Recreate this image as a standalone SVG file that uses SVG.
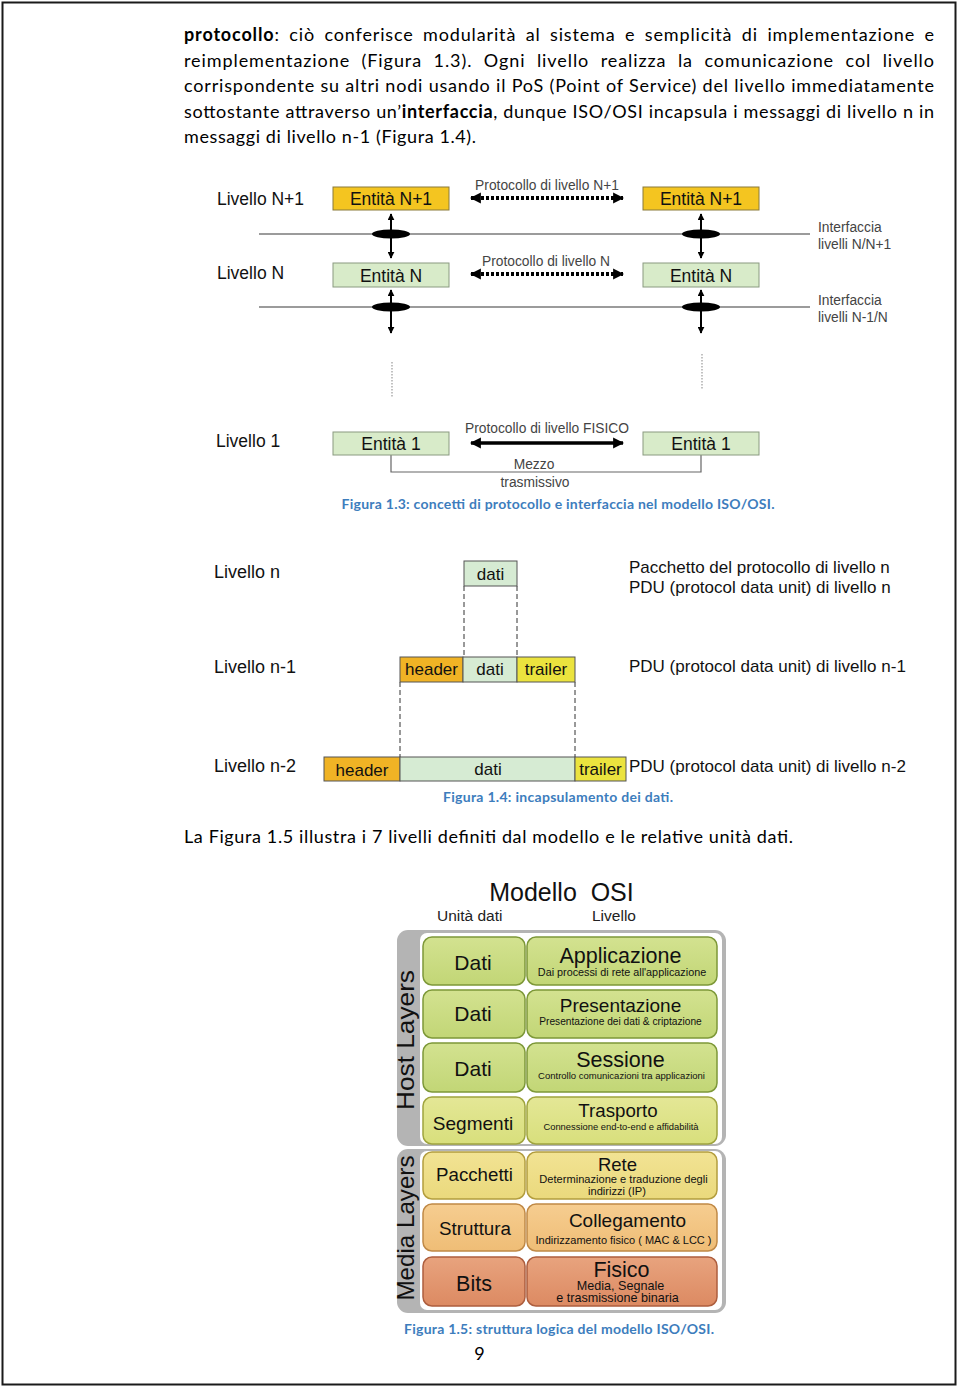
<svg xmlns="http://www.w3.org/2000/svg" width="960" height="1388" viewBox="0 0 960 1388">
<style>
.body{font-family:Lato,"Liberation Sans",sans-serif;font-size:18px;fill:#000}
.cap{font-family:Lato,"Liberation Sans",sans-serif;font-size:14px;font-weight:bold;fill:#3d7dbd;text-anchor:middle}
.ar{font-family:"Liberation Sans",Arial,sans-serif;fill:#111}
.lbl{font-size:17.5px}
.sm{font-size:13.8px;fill:#444}
.mid{text-anchor:middle}
.e1{fill:#f4c520;stroke:#8a7a3a;stroke-width:1}
.eN{fill:#d8ebc9;stroke:#8a9a80;stroke-width:1}
.hdr{fill:#f0b325;stroke:#555;stroke-width:1}
.dat{fill:#d6ebd3;stroke:#555;stroke-width:1}
.trl{fill:#ebe33e;stroke:#555;stroke-width:1}
.ifl{stroke:#7a7a7a;stroke-width:1.6;fill:none}
.dash{stroke:#333;stroke-width:1;stroke-dasharray:5 3;fill:none}
.dot{stroke:#999;stroke-width:1.2;stroke-dasharray:1.5 1.5;fill:none}
.proto{stroke:#000;stroke-width:4;stroke-dasharray:3 2;fill:none}
.va{stroke:#000;stroke-width:2;fill:none}
.grp{fill:#b4b4b4}
.inner{fill:#fff}
.big{font-size:21px}
.r1{fill:url(#g1);stroke:#7d9838;stroke-width:1.5}
.r4{fill:url(#g4);stroke:#9fa43e;stroke-width:1.5}
.r5{fill:url(#g5);stroke:#b39d3e;stroke-width:1.5}
.r6{fill:url(#g6);stroke:#c08946;stroke-width:1.5}
.r7{fill:url(#g7);stroke:#ad5e3e;stroke-width:1.5}
</style>
<defs>
<marker id="ah" viewBox="0 0 10 10" refX="9" refY="5" markerWidth="11" markerHeight="12" markerUnits="userSpaceOnUse" orient="auto-start-reverse">
<path d="M0,0 L10,5 L0,10 z" fill="#000"/>
</marker>
<marker id="vh" viewBox="0 0 10 10" refX="9" refY="5" markerWidth="7" markerHeight="7" markerUnits="userSpaceOnUse" orient="auto-start-reverse">
<path d="M0,0 L10,5 L0,10 z" fill="#000"/>
</marker>
<linearGradient id="g1" x1="0" y1="0" x2="0" y2="1"><stop offset="0" stop-color="#d3e290"/><stop offset="1" stop-color="#c2d676"/></linearGradient>
<linearGradient id="g4" x1="0" y1="0" x2="0" y2="1"><stop offset="0" stop-color="#e4e796"/><stop offset="1" stop-color="#d8df7c"/></linearGradient>
<linearGradient id="g5" x1="0" y1="0" x2="0" y2="1"><stop offset="0" stop-color="#f2e394"/><stop offset="1" stop-color="#ead97c"/></linearGradient>
<linearGradient id="g6" x1="0" y1="0" x2="0" y2="1"><stop offset="0" stop-color="#f6cd90"/><stop offset="1" stop-color="#efbd76"/></linearGradient>
<linearGradient id="g7" x1="0" y1="0" x2="0" y2="1"><stop offset="0" stop-color="#e8a37e"/><stop offset="1" stop-color="#dc8a62"/></linearGradient>
</defs>

<rect x="2.5" y="2.5" width="953" height="1382" fill="#fff" stroke="#1a1a1a" stroke-width="2"/>

<g id="paragraph1">
<text class="body" x="184" y="41" textLength="750" lengthAdjust="spacing" style="word-spacing:4px"><tspan font-weight="bold">protocollo</tspan>: ciò conferisce modularità al sistema e semplicità di implementazione e</text>
<text class="body" x="184" y="67" textLength="750" lengthAdjust="spacing" style="word-spacing:6px">reimplementazione (Figura 1.3). Ogni livello realizza la comunicazione col livello</text>
<text class="body" x="184" y="92" textLength="750" lengthAdjust="spacing">corrispondente su altri nodi usando il PoS (Point of Service) del livello immediatamente</text>
<text class="body" x="184" y="118" textLength="750" lengthAdjust="spacing">sottostante attraverso un’<tspan font-weight="bold">interfaccia</tspan>, dunque ISO/OSI incapsula i messaggi di livello n in</text>
<text class="body" x="184" y="143" textLength="292" lengthAdjust="spacing">messaggi di livello n-1 (Figura 1.4).</text>
</g>

<g id="fig13-connectors">
<line class="ifl" x1="259" y1="234" x2="810" y2="234"/>
<line class="ifl" x1="259" y1="307" x2="810" y2="307"/>
<line class="proto" x1="471" y1="198" x2="623" y2="198" marker-start="url(#ah)" marker-end="url(#ah)"/>
<line class="proto" x1="471" y1="274" x2="623" y2="274" marker-start="url(#ah)" marker-end="url(#ah)"/>
<line x1="471" y1="443" x2="623" y2="443" stroke="#000" stroke-width="3.5" marker-start="url(#ah)" marker-end="url(#ah)"/>
<line class="va" x1="391" y1="214" x2="391" y2="258" marker-start="url(#vh)" marker-end="url(#vh)"/>
<line class="va" x1="701" y1="214" x2="701" y2="258" marker-start="url(#vh)" marker-end="url(#vh)"/>
<line class="va" x1="391" y1="290" x2="391" y2="333" marker-start="url(#vh)" marker-end="url(#vh)"/>
<line class="va" x1="701" y1="290" x2="701" y2="333" marker-start="url(#vh)" marker-end="url(#vh)"/>
<ellipse cx="391" cy="234" rx="19" ry="4.5" fill="#000"/>
<ellipse cx="701" cy="234" rx="19" ry="4.5" fill="#000"/>
<ellipse cx="391" cy="307" rx="19" ry="4.5" fill="#000"/>
<ellipse cx="701" cy="307" rx="19" ry="4.5" fill="#000"/>
<line class="dot" x1="392" y1="362" x2="392" y2="397"/>
<line class="dot" x1="702" y1="354" x2="702" y2="390"/>
<polyline points="391,455 391,472 701,472 701,455" fill="none" stroke="#666" stroke-width="1.2"/>
</g>
<g id="fig13-labels" class="ar">
<text class="lbl" x="217" y="205">Livello N+1</text>
<text class="lbl" x="217" y="279">Livello N</text>
<text class="lbl" x="216" y="447">Livello 1</text>
<text class="sm mid" x="547" y="190">Protocollo di livello N+1</text>
<text class="sm mid" x="546" y="266">Protocollo di livello N</text>
<text class="sm mid" x="547" y="433">Protocollo di livello FISICO</text>
<text class="sm" x="818" y="232">Interfaccia</text>
<text class="sm" x="818" y="249">livelli N/N+1</text>
<text class="sm" x="818" y="305">Interfaccia</text>
<text class="sm" x="818" y="322">livelli N-1/N</text>
<text class="sm mid" x="534" y="469">Mezzo</text>
<text class="sm mid" x="535" y="487">trasmissivo</text>
</g>
<g id="ent-n1-left"><rect class="e1" x="333" y="187" width="116" height="23"/><text class="ar lbl mid" x="391" y="205">Entità N+1</text></g>
<g id="ent-n1-right"><rect class="e1" x="643" y="187" width="116" height="23"/><text class="ar lbl mid" x="701" y="205">Entità N+1</text></g>
<g id="ent-n-left"><rect class="eN" x="333" y="263" width="116" height="24"/><text class="ar lbl mid" x="391" y="282">Entità N</text></g>
<g id="ent-n-right"><rect class="eN" x="643" y="263" width="116" height="24"/><text class="ar lbl mid" x="701" y="282">Entità N</text></g>
<g id="ent-1-left"><rect class="eN" x="333" y="432" width="116" height="23"/><text class="ar lbl mid" x="391" y="450">Entità 1</text></g>
<g id="ent-1-right"><rect class="eN" x="643" y="432" width="116" height="23"/><text class="ar lbl mid" x="701" y="450">Entità 1</text></g>
<text class="cap" x="558" y="509" textLength="433" lengthAdjust="spacing">Figura 1.3: concetti di protocollo e interfaccia nel modello ISO/OSI.</text>

<g id="fig14-connectors">
<line class="dash" x1="464" y1="586" x2="464" y2="657"/>
<line class="dash" x1="517" y1="586" x2="517" y2="657"/>
<line class="dash" x1="400" y1="682" x2="400" y2="757"/>
<line class="dash" x1="575" y1="682" x2="575" y2="757"/>
</g>
<g id="fig14-labels" class="ar">
<text x="214" y="578" font-size="18">Livello n</text>
<text x="214" y="673" font-size="18">Livello n-1</text>
<text x="214" y="772" font-size="18">Livello n-2</text>
<text x="629" y="573" font-size="17">Pacchetto del protocollo di livello n</text>
<text x="629" y="593" font-size="17">PDU (protocol data unit) di livello n</text>
<text x="629" y="672" font-size="17">PDU (protocol data unit) di livello n-1</text>
<text x="629" y="772" font-size="17">PDU (protocol data unit) di livello n-2</text>
</g>
<g id="pdu-n"><rect class="dat" x="464" y="561" width="53" height="25"/><text class="ar mid" x="490.5" y="580" font-size="17">dati</text></g>
<g id="pdu-n1">
<rect class="hdr" x="400" y="657" width="63" height="25"/><text class="ar mid" x="431.5" y="675" font-size="17">header</text>
<rect class="dat" x="463" y="657" width="54" height="25"/><text class="ar mid" x="490" y="675" font-size="17">dati</text>
<rect class="trl" x="517" y="657" width="58" height="25"/><text class="ar mid" x="546" y="675" font-size="17">trailer</text>
</g>
<g id="pdu-n2">
<rect class="hdr" x="324" y="757" width="76" height="24"/><text class="ar mid" x="362" y="776" font-size="17">header</text>
<rect class="dat" x="400" y="757" width="175" height="24"/><text class="ar mid" x="488" y="775" font-size="17">dati</text>
<rect class="trl" x="575" y="757" width="51" height="24"/><text class="ar mid" x="600.5" y="775" font-size="17">trailer</text>
</g>
<text class="cap" x="558" y="802" textLength="230" lengthAdjust="spacing">Figura 1.4: incapsulamento dei dati.</text>

<text class="body" x="184" y="843" textLength="609" lengthAdjust="spacing">La Figura 1.5 illustra i 7 livelli definiti dal modello e le relative unità dati.</text>

<g id="osi-title" class="ar">
<text x="561.5" y="901" font-size="25" text-anchor="middle" xml:space="preserve">Modello  OSI</text>
<text x="437" y="921" font-size="15.5" fill="#222">Unità dati</text>
<text x="592" y="921" font-size="15.5" fill="#222">Livello</text>
</g>
<g id="host-layers">
<rect class="grp" x="397" y="930" width="329" height="216" rx="11"/>
<rect class="inner" x="420" y="933" width="302" height="211" rx="7"/>
<text class="ar" transform="translate(414,1040) rotate(-90)" font-size="24" text-anchor="middle" fill="#222" textLength="140" lengthAdjust="spacingAndGlyphs">Host Layers</text>
</g>
<g id="media-layers">
<rect class="grp" x="397" y="1149" width="329" height="164" rx="11"/>
<rect class="inner" x="420" y="1151" width="302" height="159" rx="7"/>
<text class="ar" transform="translate(414,1228) rotate(-90)" font-size="24" text-anchor="middle" fill="#222" textLength="145" lengthAdjust="spacingAndGlyphs">Media Layers</text>
</g>
<g id="l7" class="ar">
<rect class="r1" x="423" y="937" width="102" height="48" rx="9"/>
<rect class="r1" x="527" y="937" width="190" height="48" rx="9"/>
<text class="mid big" x="473" y="970">Dati</text>
<text class="mid" x="620.5" y="963" font-size="21.5">Applicazione</text>
<text class="mid" x="622" y="976" font-size="10.8">Dai processi di rete all'applicazione</text>
</g>
<g id="l6" class="ar">
<rect class="r1" x="423" y="990" width="102" height="48" rx="9"/>
<rect class="r1" x="527" y="990" width="190" height="48" rx="9"/>
<text class="mid big" x="473" y="1021">Dati</text>
<text class="mid" x="620.5" y="1012" font-size="19">Presentazione</text>
<text class="mid" x="620.5" y="1025" font-size="10.2">Presentazione dei dati &amp; criptazione</text>
</g>
<g id="l5" class="ar">
<rect class="r1" x="423" y="1043" width="102" height="49" rx="9"/>
<rect class="r1" x="527" y="1043" width="190" height="49" rx="9"/>
<text class="mid big" x="473" y="1076">Dati</text>
<text class="mid" x="620.5" y="1067" font-size="21.5">Sessione</text>
<text class="mid" x="621.5" y="1079" font-size="9.5">Controllo comunicazioni tra applicazioni</text>
</g>
<g id="l4" class="ar">
<rect class="r4" x="423" y="1097" width="102" height="47" rx="9"/>
<rect class="r4" x="527" y="1097" width="190" height="47" rx="9"/>
<text class="mid" x="473" y="1130" font-size="19">Segmenti</text>
<text class="mid" x="618" y="1117" font-size="18.7">Trasporto</text>
<text class="mid" x="621" y="1129.5" font-size="9.4">Connessione end-to-end e affidabilità</text>
</g>
<g id="l3" class="ar">
<rect class="r5" x="423" y="1152" width="102" height="47" rx="9"/>
<rect class="r5" x="527" y="1152" width="190" height="47" rx="9"/>
<text class="mid" x="474.5" y="1181" font-size="18.7">Pacchetti</text>
<text class="mid" x="617.5" y="1170.5" font-size="18.5">Rete</text>
<text class="mid" x="623.5" y="1183" font-size="11.1">Determinazione e traduzione degli</text>
<text class="mid" x="617" y="1195" font-size="11.1">indirizzi (IP)</text>
</g>
<g id="l2" class="ar">
<rect class="r6" x="423" y="1204" width="102" height="47" rx="9"/>
<rect class="r6" x="527" y="1204" width="190" height="47" rx="9"/>
<text class="mid" x="475" y="1235" font-size="18.8">Struttura</text>
<text class="mid" x="627.5" y="1227" font-size="19">Collegamento</text>
<text class="mid" x="623.5" y="1244" font-size="11">Indirizzamento fisico ( MAC &amp; LCC )</text>
</g>
<g id="l1" class="ar">
<rect class="r7" x="423" y="1257" width="102" height="49" rx="9"/>
<rect class="r7" x="527" y="1257" width="190" height="49" rx="9"/>
<text class="mid" x="474" y="1291" font-size="21.5">Bits</text>
<text class="mid" x="621.5" y="1276.5" font-size="21.5">Fisico</text>
<text class="mid" x="620.5" y="1290" font-size="12.6">Media, Segnale</text>
<text class="mid" x="617.5" y="1301.5" font-size="12.6">e trasmissione binaria</text>
</g>
<text class="cap" x="559" y="1334" textLength="310" lengthAdjust="spacing">Figura 1.5: struttura logica del modello ISO/OSI.</text>
<text class="body" x="479.5" y="1360" text-anchor="middle" font-size="18">9</text>
</svg>
